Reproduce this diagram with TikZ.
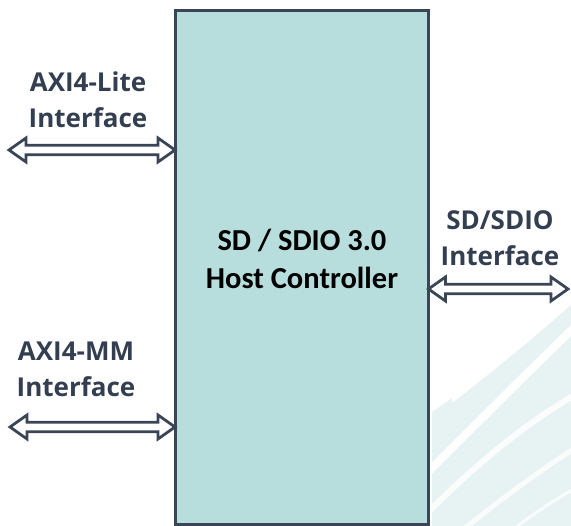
\documentclass[tikz,border=0pt]{standalone}
\usepackage{fontspec}
\usetikzlibrary{calc}
\newfontfamily\sidefont{Open Sans}
\newfontfamily\boxfont{Carlito}
\definecolor{slate}{HTML}{3A4556}
\definecolor{labelc}{HTML}{333F50}
\definecolor{boxfill}{HTML}{B7DEDC}
\definecolor{tint}{HTML}{E6F3F2}
\newcommand\hollowarrow[2]{%
  \draw[harrow] let \p1=(#1), \p2=(#2) in
    (\x1,\y1) -- (\x1+17pt,\y1+12pt) -- (\x1+17pt,\y1+4.7pt) -- (\x2-17pt,\y1+4.7pt)
    -- (\x2-17pt,\y1+12pt) -- (\x2,\y1) -- (\x2-17pt,\y1-12pt) -- (\x2-17pt,\y1-4.7pt)
    -- (\x1+17pt,\y1-4.7pt) -- (\x1+17pt,\y1-12pt) -- cycle;}
\tikzset{
  harrow/.style={draw=slate, line width=2.8pt, fill=white, line join=miter},
  mainbox/.style={draw=slate, line width=3pt, fill=boxfill, outer sep=0pt, inner sep=0pt},
  sidelabel/.style={text=labelc, align=center, font=\sidefont\bfseries\fontsize{26}{36}\selectfont, inner sep=0pt},
  boxlabel/.style={text=black, align=center, font=\boxfont\bfseries\fontsize{30.5}{38}\selectfont, inner sep=0pt},
}
\begin{document}
\begin{tikzpicture}[x=1pt,y=-1pt]
\useasboundingbox (0,0) rectangle (571,526);
% faint background stripes
\begin{scope}
\clip (430,300) rectangle (571,526);
\fill[tint] (432,418) .. controls (470,390) and (520,350) .. (571,305) -- (571,526) -- (432,526) -- cycle;
\draw[white, line width=8pt] (420,480) .. controls (480,420) and (530,370) .. (580,322);
\draw[white, line width=6pt, opacity=0.85] (420,520) .. controls (480,460) and (530,420) .. (580,392);
\draw[white, line width=5pt, opacity=0.8] (450,540) .. controls (500,500) and (540,470) .. (580,445);
\draw[white, line width=3pt, opacity=0.8] (500,540) .. controls (530,515) and (555,500) .. (580,485);
\fill[tint] (432,412) -- (452,398) -- (452,404) -- (432,420) -- cycle;
\end{scope}
% main block
\node[mainbox, minimum width=253.5pt, minimum height=514pt] (box) at (301.75,267.5) {};
\node[boxlabel] (title) at (302,259) {SD / SDIO 3.0\\Host Controller};
% labels
\node[sidelabel] (lite) at (88,100) {AXI4-Lite\\Interface};
\node[sidelabel] (mm) at (76,369) {AXI4-MM\\Interface};
\node[sidelabel] (sdio) at (500,238) {SD/SDIO\\Interface};
% connector end points
\coordinate (liteend) at (9,150);
\coordinate (mmend) at (10,427);
\coordinate (sdioend) at (568,289);
\hollowarrow{liteend}{box.west |- liteend}
\hollowarrow{mmend}{box.west |- mmend}
\hollowarrow{box.east |- sdioend}{sdioend}
\end{tikzpicture}
\end{document}
